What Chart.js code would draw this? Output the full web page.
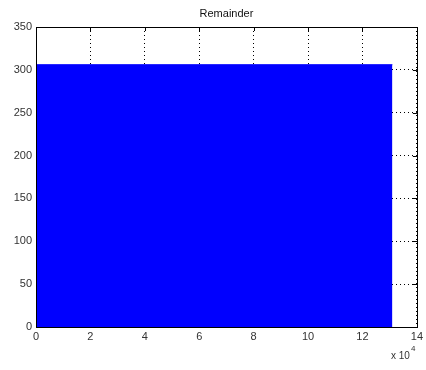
<!DOCTYPE html>
<html>
<head>
<meta charset="utf-8">
<script src="https://cdn.jsdelivr.net/npm/chart.js@4"></script>
<style>
html,body{margin:0;padding:0;background:#fff;}
#wrap{width:426px;height:370px;position:relative;}
</style>
</head>
<body>
<div id="wrap"><canvas id="c" width="426" height="370"></canvas></div>
<script>
const titleText = "Remainder";
const xValues = [0, 131000];
const remainderValues = [306, 306];
const xTicks = [0, 20000, 40000, 60000, 80000, 100000, 120000, 140000];
const yTicks = [0, 50, 100, 150, 200, 250, 300, 350];
const xScaleLabel = "x 10";
const xScaleExp = "4";

const FONT = "'Liberation Sans', Arial, Helvetica, sans-serif";
const TXT = "#333";

const boxPlugin = {
  id: 'box',
  beforeDatasetsDraw(chart) {
    const ctx = chart.ctx;
    const a = chart.chartArea;
    const xs = chart.scales.x, ys = chart.scales.y;
    ctx.save();
    ctx.strokeStyle = '#000';
    ctx.lineWidth = 1;
    const tl = 4;
    ctx.beginPath();
    xTicks.forEach(v => {
      const px = Math.round(xs.getPixelForValue(v)) + 0.5;
      ctx.moveTo(px, a.bottom); ctx.lineTo(px, a.bottom - tl);
      ctx.moveTo(px, a.top); ctx.lineTo(px, a.top + tl);
    });
    yTicks.forEach(v => {
      const py = Math.round(ys.getPixelForValue(v)) + 0.5;
      ctx.moveTo(a.left, py); ctx.lineTo(a.left + tl, py);
      ctx.moveTo(a.right, py); ctx.lineTo(a.right - tl, py);
    });
    ctx.stroke();
    ctx.restore();
  },
  afterDraw(chart) {
    const ctx = chart.ctx;
    const a = chart.chartArea;
    ctx.save();
    ctx.strokeStyle = '#000';
    ctx.lineWidth = 1;
    ctx.strokeRect(Math.round(a.left) + 0.5, Math.round(a.top) + 0.5, Math.round(a.right - a.left), Math.round(a.bottom - a.top));
    // title
    ctx.fillStyle = '#111';
    ctx.font = "11px " + FONT;
    ctx.textAlign = 'center';
    ctx.textBaseline = 'middle';
    ctx.fillText(titleText, (a.left + a.right) / 2, 14);
    // x 10^4
    ctx.fillStyle = TXT;
    ctx.textAlign = 'left';
    ctx.font = "10px " + FONT;
    ctx.fillText(xScaleLabel, 391, 356);
    ctx.font = "8px " + FONT;
    ctx.fillText(xScaleExp, 411, 349);
    ctx.restore();
  }
};

new Chart(document.getElementById('c'), {
  type: 'line',
  data: {
    datasets: [{
      label: titleText,
      data: xValues.map((x, i) => ({x: x, y: remainderValues[i]})),
      fill: 'origin',
      backgroundColor: '#0000ff',
      borderColor: '#0000ff',
      borderWidth: 1,
      pointRadius: 0,
      tension: 0
    }]
  },
  options: {
    responsive: false,
    animation: false,
    layout: {padding: {top: 27, right: 9, left: 0, bottom: 0}},
    plugins: {legend: {display: false}, title: {display: false}, tooltip: {enabled: false}},
    scales: {
      x: {
        type: 'linear',
        min: 0, max: 140000,
        afterBuildTicks: s => { s.ticks = xTicks.map(v => ({value: v})); },
        afterFit: s => { s.height = 43; },
        grid: {color: '#000', lineWidth: 1, drawTicks: false},
        border: {display: false, dash: [1, 3]},
        ticks: {
          callback: v => String(v / 10000),
          color: TXT, font: {family: FONT, size: 11}, padding: 3, maxRotation: 0
        }
      },
      y: {
        type: 'linear',
        min: 0, max: 350,
        afterBuildTicks: s => { s.ticks = yTicks.map(v => ({value: v})); },
        afterFit: s => { s.width = 36; },
        grid: {color: '#000', lineWidth: 1, drawTicks: false},
        border: {display: false, dash: [1, 3]},
        ticks: {color: TXT, font: {family: FONT, size: 11}, padding: 4}
      }
    }
  },
  plugins: [boxPlugin]
});
</script>
</body>
</html>
